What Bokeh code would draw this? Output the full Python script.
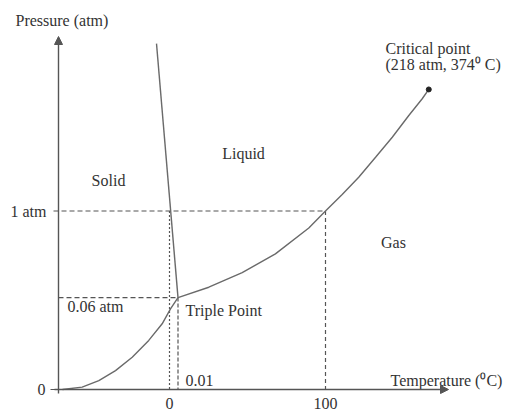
from bokeh.plotting import figure
from bokeh.models import Range1d, Arrow, NormalHead
from bokeh.embed import file_html
from bokeh.resources import INLINE
from bokeh.core.properties import value

# Schematic phase diagram of water.
# Diagram units: x -> temperature position (0 = 0 degC, 100 = 100 degC),
# y -> pressure position (0 = 0 atm, 1 = 1 atm). Not to scale (schematic).
x_tick_pos = [0, 100]
x_tick_labels = ["0", "100"]
y_tick_pos = [0, 1]
y_tick_labels = ["0", "1 atm"]

triple_T = 5.45    # drawn position of 0.01 degC
triple_P = 0.515   # drawn position of 0.06 atm
triple_T_label = "0.01"
triple_P_label = "0.06 atm"

crit_T = 166.2
crit_P = 1.681

# liquid-gas (vaporisation) curve
lg_T = [5.45, 25.2, 46.6, 67.9, 89.3, 100.0, 110.7, 121.3, 132.1, 142.8, 153.4, 162.0, 166.2]
lg_P = [0.515, 0.573, 0.655, 0.760, 0.905, 1.0, 1.092, 1.189, 1.301, 1.413, 1.535, 1.629, 1.681]
# solid-gas (sublimation) curve
sg_T = [-68.6, -56.0, -45.3, -34.6, -23.9, -13.3, -4.7, 0.64, 5.45]
sg_P = [0.0, 0.013, 0.050, 0.106, 0.181, 0.275, 0.368, 0.452, 0.515]
# solid-liquid (melting) line
sl_T = [-8.33, 5.45]
sl_P = [1.938, 0.515]

region_labels = ["Solid", "Liquid", "Gas"]

# ---- drawing ----
W, H = 509, 412
def X(px):  # picture px -> diagram x
    return (px - 169) / 1.56
def Y(py):  # picture py -> diagram y
    return (389 - py) / 178.5

p = figure(width=W, height=H, output_backend="svg", toolbar_location=None,
           x_range=Range1d(X(0), X(W)), y_range=Range1d(Y(H), Y(0)),
           x_axis_location=None, y_axis_location=None, min_border=0,
           outline_line_color=None, background_fill_color="white",
           border_fill_color="white")
p.grid.visible = False

LINE = "#6a6a6a"
AX = "#555555"
TXT = "#333333"
FONT = value("Liberation Serif")
FS = "16px"

# axes with arrows
ax_x0 = X(58)
p.add_layout(Arrow(end=NormalHead(size=8, fill_color=AX, line_color=AX),
                   x_start=ax_x0, y_start=Y(393), x_end=ax_x0, y_end=Y(36),
                   line_color=AX, line_width=1.4))
p.add_layout(Arrow(end=NormalHead(size=8, fill_color=AX, line_color=AX),
                   x_start=X(54), y_start=0, x_end=X(448), y_end=0,
                   line_color=AX, line_width=1.4))
# y tick at 0
p.segment(x0=[X(50)], y0=[0], x1=[ax_x0], y1=[0], line_color=AX, line_width=1.2)

# reference dashed lines
p.line([X(53), 100], [1, 1], line_color=AX, line_width=1.2, line_dash="5 3")
p.line([100, 100], [1, 0], line_color=AX, line_width=1.2, line_dash="4 3")
p.line([x_tick_pos[0], x_tick_pos[0]], [1, 0], line_color=AX, line_width=1.2, line_dash="2 2")
p.line([ax_x0, triple_T], [triple_P, triple_P], line_color=AX, line_width=1.2, line_dash="5 3")
p.line([triple_T, triple_T], [triple_P, 0], line_color=AX, line_width=1.2, line_dash="4 2")

# phase boundaries
p.line(lg_T, lg_P, line_color=LINE, line_width=1.4)
p.line(sg_T, sg_P, line_color=LINE, line_width=1.4)
p.line(sl_T, sl_P, line_color=LINE, line_width=1.4)
p.scatter([crit_T], [crit_P], size=5, color="#222222")

def txt(x, y, s, align="left", size=FS):
    p.text(x=[x], y=[y], text=[s], text_font=FONT, text_font_size=size,
           text_color=TXT, text_align=align, text_baseline="middle")

txt(X(15), Y(20), "Pressure (atm)")
txt(X(385), Y(48), "Critical point")
txt(X(385), Y(64), "(218 atm, 374\u2070 C)")
txt(X(108), Y(180), region_labels[0], "center")
txt(X(243), Y(153), region_labels[1], "center")
txt(X(393), Y(242), region_labels[2], "center")
txt(X(46), y_tick_pos[1], y_tick_labels[1], "right")
txt(X(45), y_tick_pos[0], y_tick_labels[0], "right")
txt(X(67), Y(306), triple_P_label)
txt(X(185), Y(310), "Triple Point")
for xp, lab in zip(x_tick_pos, x_tick_labels):
    txt(xp, Y(403), lab, "center")
txt(X(185), Y(380), triple_T_label)
txt(X(390), Y(380), "Temperature (\u2070C)")

open("out.html", "w").write(file_html(p, INLINE))
